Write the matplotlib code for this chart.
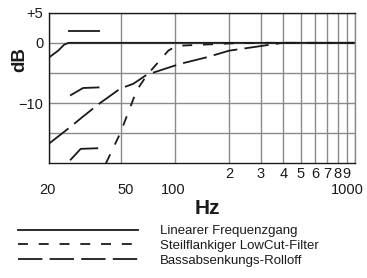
import matplotlib
matplotlib.use("Agg")
import matplotlib.pyplot as plt
import matplotlib.transforms as mtransforms
from matplotlib.lines import Line2D

plt.rcParams['font.family'] = ['Liberation Sans', 'DejaVu Sans']

# curves (Hz, dB)
lin_f = [20, 22.4, 24.2, 25.6, 1000]
lin_db = [-2.4, -1.3, -0.3, 0, 0]

steep_f = [41.3, 49.6, 61.2, 69.6, 79.1, 91.7, 102, 121, 156, 200, 300, 1000]
steep_db = [-20, -15, -7.9, -5.4, -3.5, -1.3, -0.5, -0.4, -0.25, -0.1, 0, 0]

bass_f = [20, 26.1, 30.9, 38.3, 49.6, 58.6, 69.6, 106.5, 150, 200, 290, 397, 1000]
bass_db = [-16.7, -14.0, -12.2, -10, -7.6, -6.8, -5.3, -3.5, -2.4, -1.3, -0.6, 0, 0]

# little switch symbols in the upper left
icon1_f = [25.5, 38.4]
icon1_db = [2.0, 2.0]
icon2_f = [26.1, 30.8, 38.0]
icon2_db = [-8.75, -7.5, -7.4]
icon3_f = [26.1, 29.9, 37.4]
icon3_db = [-19.5, -17.6, -17.5]

major_x = [20, 50, 100, 1000]
major_lab = ['20', '50', '100', '1000']
minor_x = [200, 300, 400, 500, 600, 700, 800, 900]
minor_lab = ['2', '3', '4', '5', '6', '7', '8', '9']
y_ticks = [5, 0, -5, -10, -15]
y_lab = ['+5', '0', '', '\u221210', '']

legend_lab = ['Linearer Frequenzgang', 'Steilflankiger LowCut-Filter', 'Bassabsenkungs-Rolloff']

ink = '#1a1a1a'
gridc = '#8a8a8a'
lw = 1.3
short_dash = (5.5, 6)
long_dash = (13.5, 4)

fig = plt.figure(figsize=(3.67, 2.78), dpi=100)
ax = fig.add_axes([0.1343, 0.4126, 0.833, 0.5417])

ax.set_xscale('log')
ax.set_xlim(20, 1000)
ax.set_ylim(-20, 5)

ax.plot(lin_f, lin_db, color=ink, lw=lw, solid_capstyle='butt')
ax.plot(steep_f, steep_db, color=ink, lw=lw, dashes=short_dash)
ax.plot(bass_f, bass_db, color=ink, lw=lw, dashes=long_dash)

for f, d in [(icon1_f, icon1_db), (icon2_f, icon2_db), (icon3_f, icon3_db)]:
    ax.plot(f, d, color=ink, lw=lw, solid_capstyle='butt')

ax.set_xticks(major_x)
ax.set_xticklabels(major_lab)
ax.set_xticks(minor_x, minor=True)
ax.set_xticklabels(minor_lab, minor=True)
ax.set_yticks(y_ticks)
ax.set_yticklabels(y_lab)

ax.tick_params(axis='x', which='major', length=0, pad=14, labelsize=10.5, labelcolor=ink)
ax.tick_params(axis='x', which='minor', length=0, pad=3, labelsize=10.5, labelcolor=ink)
ax.tick_params(axis='y', length=0, pad=4.3, labelsize=10.5, labelcolor=ink)

shifts = [-2, 5, -2, -8]
for lab, s in zip(ax.get_xticklabels(), shifts):
    lab.set_transform(lab.get_transform() + mtransforms.ScaledTranslation(s / 100, 0, fig.dpi_scale_trans))

ax.grid(True, which='both', color=gridc, lw=1.0)
ax.set_axisbelow(True)
for side in ['left', 'top', 'bottom']:
    ax.spines[side].set_color(ink)
    ax.spines[side].set_linewidth(1.0)
ax.spines['right'].set_color(gridc)
ax.spines['right'].set_linewidth(1.0)

fig.text(20 / 367, 1 - 60 / 278, 'dB', rotation=90, ha='center', va='center',
         fontsize=13.5, fontweight='bold', color=ink)
fig.text(207 / 367, 1 - 209 / 278, 'Hz', ha='center', va='center',
         fontsize=15, fontweight='bold', color=ink)

handles = [Line2D([], [], color=ink, lw=lw),
           Line2D([], [], color=ink, lw=lw, dashes=short_dash),
           Line2D([], [], color=ink, lw=lw, dashes=long_dash)]
fig.legend(handles, legend_lab, loc='upper left', bbox_to_anchor=(18 / 367, 1 - 225 / 278),
           frameon=False, fontsize=9.5, handlelength=9.1, handletextpad=1.67,
           labelspacing=0.2, borderpad=0, borderaxespad=0, labelcolor=ink)

fig.savefig('out.png', dpi=100)
